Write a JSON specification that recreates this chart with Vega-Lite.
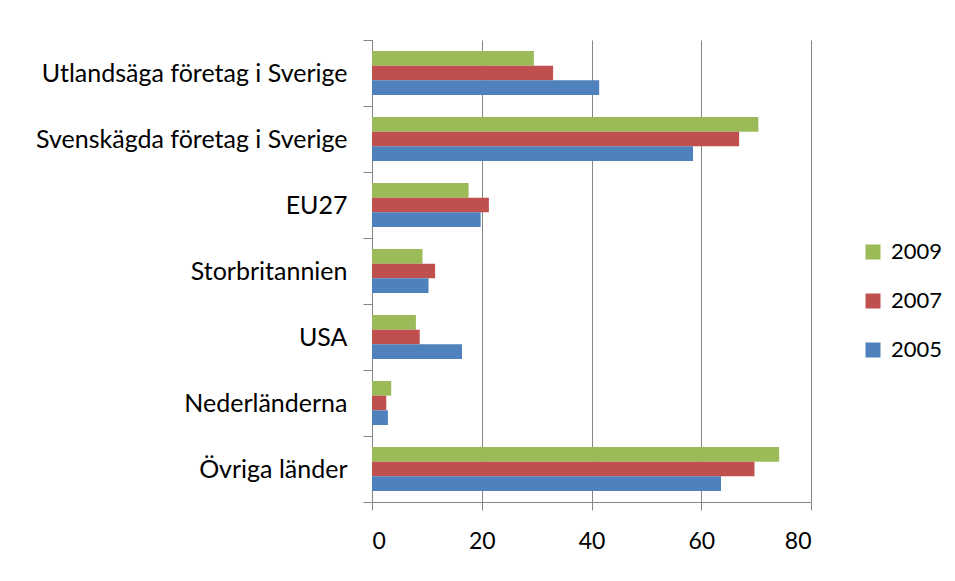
{
  "$schema": "https://vega.github.io/schema/vega-lite/v6.json",
  "width": 439,
  "height": 462,
  "autosize": "none",
  "padding": {"left": 372, "top": 40, "right": 144, "bottom": 79},
  "background": "white",
  "config": {"view": {"stroke": null}, "font": "Lato"},
  "data": {
    "values": [
      {"category": "Utlandsäga företag i Sverige", "year": "2009", "value": 29.5},
      {"category": "Utlandsäga företag i Sverige", "year": "2007", "value": 33.0},
      {"category": "Utlandsäga företag i Sverige", "year": "2005", "value": 41.4},
      {"category": "Svenskägda företag i Sverige", "year": "2009", "value": 70.4},
      {"category": "Svenskägda företag i Sverige", "year": "2007", "value": 66.9},
      {"category": "Svenskägda företag i Sverige", "year": "2005", "value": 58.5},
      {"category": "EU27", "year": "2009", "value": 17.6},
      {"category": "EU27", "year": "2007", "value": 21.3},
      {"category": "EU27", "year": "2005", "value": 19.8},
      {"category": "Storbritannien", "year": "2009", "value": 9.2},
      {"category": "Storbritannien", "year": "2007", "value": 11.5},
      {"category": "Storbritannien", "year": "2005", "value": 10.3},
      {"category": "USA", "year": "2009", "value": 8.0},
      {"category": "USA", "year": "2007", "value": 8.7},
      {"category": "USA", "year": "2005", "value": 16.4},
      {"category": "Nederländerna", "year": "2009", "value": 3.5},
      {"category": "Nederländerna", "year": "2007", "value": 2.6},
      {"category": "Nederländerna", "year": "2005", "value": 2.9},
      {"category": "Övriga länder", "year": "2009", "value": 74.2},
      {"category": "Övriga länder", "year": "2007", "value": 69.7},
      {"category": "Övriga länder", "year": "2005", "value": 63.6}
    ]
  },
  "mark": {"type": "bar"},
  "encoding": {
    "y": {
      "field": "category",
      "type": "nominal",
      "sort": ["Utlandsäga företag i Sverige", "Svenskägda företag i Sverige", "EU27", "Storbritannien", "USA", "Nederländerna", "Övriga länder"],
      "scale": {"paddingInner": 0, "paddingOuter": 0},
      "axis": {
        "title": null,
        "tickBand": "extent",
        "labelFontSize": 25,
        "labelFont": "Lato",
        "labelColor": "#000000",
        "labelPadding": 16,
        "labelLimit": 600,
        "tickSize": 9,
        "tickColor": "#868686",
        "domainColor": "#868686",
        "grid": false
      }
    },
    "x": {
      "field": "value",
      "type": "quantitative",
      "scale": {"domain": [0, 80], "nice": false},
      "axis": {
        "title": null,
        "values": [0, 20, 40, 60, 80],
        "grid": true,
        "gridColor": "#868686",
        "gridOpacity": 1,
        "tickSize": 8,
        "tickColor": "#868686",
        "domainColor": "#868686",
        "labelFontSize": 23,
        "labelFont": "Lato",
        "labelColor": "#000000",
        "labelPadding": 20
      }
    },
    "yOffset": {
      "field": "year",
      "type": "nominal",
      "sort": ["2009", "2007", "2005"],
      "scale": {"paddingOuter": 0.75, "paddingInner": 0}
    },
    "color": {
      "field": "year",
      "type": "nominal",
      "scale": {"domain": ["2009", "2007", "2005"], "range": ["#9BBB59", "#C0504D", "#4F81BD"]},
      "legend": {
        "title": null,
        "orient": "none",
        "legendX": 490,
        "legendY": 201,
        "padding": 0,
        "symbolType": "square",
        "symbolSize": 225,
        "symbolStrokeWidth": 0,
        "labelFontSize": 22,
        "labelFont": "Lato",
        "labelColor": "#000000",
        "labelOffset": 7,
        "rowPadding": 27
      }
    }
  }
}
